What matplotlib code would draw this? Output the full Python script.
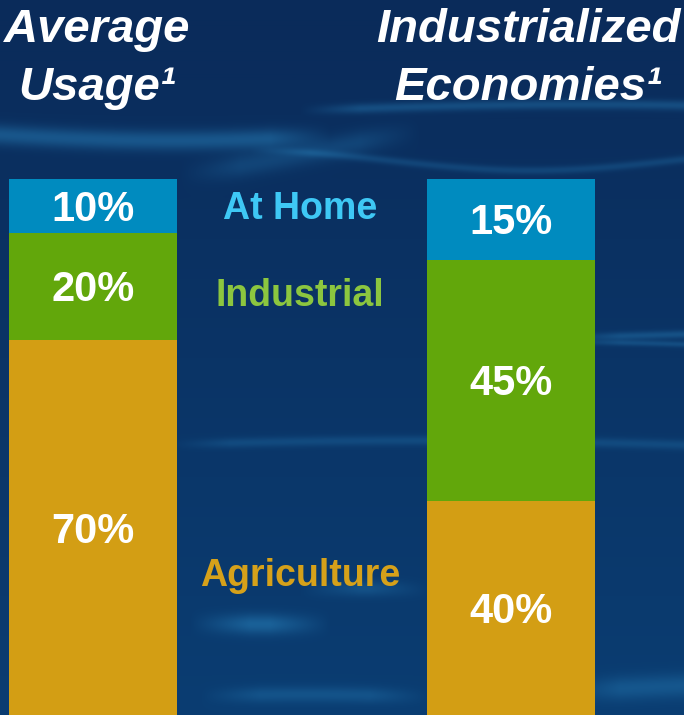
import numpy as np
import matplotlib
matplotlib.use("Agg")
import matplotlib.pyplot as plt
from matplotlib.colors import to_rgb

# data
group_lines = [["Average", "Usage\u00b9"], ["Industrialized", "Economies\u00b9"]]
categories = ["Agriculture", "Industrial", "At Home"]
average_usage = [70, 20, 10]
industrialized = [40, 45, 15]
values = [average_usage, industrialized]

bar_colors = ["#d39e14", "#62a70b", "#008bbf"]
label_colors = ["#d6a11a", "#8cc63f", "#3ec8f5"]
label_y = [24.2, 76.4, 92.5]

W, H = 684, 715
fig = plt.figure(figsize=(W / 100, H / 100), dpi=100)

# water-like background
bg = fig.add_axes([0, 0, 1, 1])
yy, xx = np.mgrid[0:H, 0:W].astype(float)
top = np.array(to_rgb("#0a2b5a"))
bot = np.array(to_rgb("#0a3d72"))
t = (yy / H)[..., None]
img = top * (1 - t) + bot * t
hi = np.array(to_rgb("#2a86c0"))


def ribbon(y0, amp, freq, phase, width, x0, x1, strength):
    yc = y0 + amp * np.sin(freq * xx / W * 2 * np.pi + phase)
    d = np.exp(-((yy - yc) / width) ** 2)
    fade = np.clip((xx - x0) / 60, 0, 1) * np.clip((x1 - xx) / 60, 0, 1)
    return d * fade * strength


glow = np.zeros((H, W))
glow += ribbon(132, 8, 0.8, 0.3, 10, -60, 330, 0.45)
glow += ribbon(110, 6, 0.6, 1.5, 5, 300, 760, 0.35)
glow += ribbon(160, 10, 1.2, 2.0, 4, 250, 760, 0.25)
glow += ribbon(150, 25, 0.9, 0.5, 12, 180, 420, 0.25)
glow += ribbon(335, 6, 0.5, 0.2, 4, 560, 760, 0.35)
glow += ribbon(350, 8, 0.7, 1.0, 3, 560, 760, 0.3)
glow += ribbon(445, 5, 0.6, 2.4, 5, 170, 760, 0.25)
glow += ribbon(620, 4, 0.5, 0.0, 10, 190, 330, 0.5)
glow += ribbon(600, 12, 0.9, 1.7, 8, 300, 430, 0.3)
glow += ribbon(690, 10, 0.5, 0.5, 12, 560, 760, 0.35)
glow += ribbon(700, 6, 0.8, 2.5, 8, 200, 430, 0.3)
glow = np.clip(glow, 0, 0.7)[..., None]
img = img * (1 - glow) + hi * glow
bg.imshow(img, extent=[0, W, H, 0], aspect="auto", interpolation="bilinear")
bg.set_xlim(0, W)
bg.set_ylim(H, 0)
bg.axis("off")

# bars
ax = fig.add_axes([0, -1 / H, 1, 537 / H])
ax.set_xlim(0, W)
ax.set_ylim(0, 100)
ax.axis("off")
ax.patch.set_alpha(0)

font = ["Liberation Sans", "DejaVu Sans"]
x_pos = [93, 511]
bar_w = 168
for x, vals in zip(x_pos, values):
    bottom = 0
    for v, c in zip(vals, bar_colors):
        ax.bar(x, v, bottom=bottom, width=bar_w, color=c, edgecolor="none")
        # centre the cap height of the label on the segment
        ax.annotate(f"{v}%", (x, bottom + v / 2), xytext=(0, -10.7),
                    textcoords="offset points", ha="center", va="baseline",
                    color="white", fontsize=30, fontweight="bold", family=font)
        bottom += v

for name, y, c in zip(categories, label_y, label_colors):
    ax.text(300, y, name, ha="center", va="baseline", color=c,
            fontsize=27, fontweight="bold", family=font)

# group titles
title_x = [97, 528]
for x, lines in zip(title_x, group_lines):
    for line, base in zip(lines, [42, 100]):
        fig.text(x / W, 1 - base / H, line, ha="center", va="baseline",
                 color="white", fontsize=34, fontweight="bold",
                 fontstyle="italic", family=font)

fig.savefig("out.png", dpi=100)
